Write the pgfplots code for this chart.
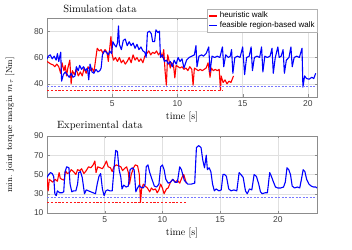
\documentclass[border=0pt]{standalone}
\usepackage{fontspec}
\usepackage{pgfplots}
\pgfplotsset{compat=1.18}
\newfontfamily\ticksans{Liberation Sans}
\definecolor{mred}{RGB}{255,0,0}
\definecolor{mblue}{RGB}{0,0,255}
\definecolor{lblue}{RGB}{120,120,255}
\pgfplotsset{
  myax/.style={
    scale only axis, width=270pt,
    axis line style={black!45}, tick style={black!45},
    major tick length=2.5pt, tick align=inside,
    grid=major, grid style={black!12, line width=0.4pt},
    tick label style={font=\ticksans\fontsize{8.5}{9}\selectfont, text=black!75},
    /pgf/number format/assume math mode=true,
    xlabel={time [s]}, label style={font=\fontsize{10}{11}\selectfont},
    xlabel style={yshift=1.5pt},
    title style={font=\fontsize{10.5}{11}\selectfont, anchor=south, yshift=-4.5pt},
    xtick={5,10,15,20}, xmin=0,
    every axis plot/.append style={line width=1.1pt, line join=round},
  }
}
\begin{document}
\begin{tikzpicture}[x=1pt,y=1pt]
\useasboundingbox (0,0) rectangle (352,249);
\begin{axis}[myax, height=79pt, at={(47pt,152pt)}, anchor=south west,
  xmax=20.7, ymin=30, ymax=90, ytick={40,60,80},
  title={Simulation data}, title style={at={(0.196,1)}},
  legend style={at={(0.593,1.114)}, anchor=north west, draw=black!30,
    font=\ticksans\fontsize{8}{9}\selectfont, inner sep=1pt, row sep=-1.5pt,
    cells={anchor=west}},
]
\addlegendimage{legend image code/.code={\draw[draw=mred, line width=1.5pt] (0pt,0pt) -- (8pt,0pt);}}
\addlegendentry{heuristic walk}
\addlegendimage{legend image code/.code={\draw[draw=mblue, line width=1.5pt] (0pt,0pt) -- (8pt,0pt);}}
\addlegendentry{feasible region-based walk}
\addplot[mred, forget plot] coordinates {(0,57)(0.15,56)(0.3,55)(0.45,54.5)(0.6,53)(0.75,55)(0.9,53)(1.05,48)(1.15,56)(1.3,50)(1.4,54)(1.5,46)(1.6,52)(1.75,58)(1.85,40)(1.95,50)(2.1,47)(2.25,51)(2.4,46)(2.55,49)(2.7,46)(2.85,52)(3.0,48)(3.15,53)(3.3,50)(3.45,52)(3.6,49)(3.75,60)(3.85,67)(4.0,65)(4.15,66)(4.3,63)(4.45,66)(4.6,64)(4.7,57)(4.8,66)(4.9,76)(5.0,62)(5.1,58)(5.25,60)(5.4,57)(5.55,60)(5.7,56)(5.85,58)(6.0,55)(6.15,57)(6.3,60)(6.45,56)(6.6,62)(6.75,58)(6.9,60)(7.05,57)(7.2,59)(7.35,56)(7.5,61)(7.65,63)(7.8,65)(7.95,62)(8.1,64)(8.25,63)(8.4,65)(8.55,62)(8.7,64)(8.85,60)(8.95,66)(9.05,50)(9.15,39)(9.25,62)(9.35,58)(9.45,52)(9.55,56)(9.7,54)(9.8,44.5)(9.9,54)(10.05,53)(10.2,52)(10.35,53)(10.5,51)(10.65,52)(10.8,50)(10.95,53)(11.1,51)(11.2,39)(11.3,52)(11.45,51)(11.6,50)(11.75,51)(11.9,50)(12.05,51)(12.2,52)(12.35,56)(12.5,45)(12.6,52)(12.75,50)(12.9,51)(13.05,50)(13.2,51)(13.3,35)(13.35,46)(13.5,41)(13.65,43)(13.8,40)(13.95,42)(14.1,41)(14.3,46)};
\addplot[mblue, forget plot] coordinates {(0,59)(0.1,61)(0.25,62)(0.4,59)(0.55,61)(0.7,58)(0.8,63)(0.9,57)(1.05,64)(1.12,42)(1.25,47)(1.4,49)(1.55,47)(1.7,45)(1.85,48)(2.0,45)(2.15,46)(2.25,53)(2.4,50)(2.5,54)(2.65,51)(2.8,53)(2.95,50)(3.1,52)(3.2,43)(3.3,55)(3.45,49)(3.6,48)(3.75,51)(3.9,49)(4.05,50)(4.15,52)(4.25,62)(4.4,65)(4.55,64)(4.7,62)(4.8,65)(4.95,63)(5.05,72)(5.15,70)(5.3,68)(5.4,71)(5.48,84)(5.55,70)(5.7,66)(5.85,73)(6.0,74)(6.15,69)(6.3,72)(6.45,69)(6.6,71)(6.75,67)(6.9,70)(7.05,66)(7.2,68)(7.35,65)(7.5,64)(7.6,60)(7.7,79)(7.85,80)(8.0,78)(8.1,72)(8.25,72)(8.35,81)(8.5,79)(8.62,80)(8.7,60)(8.85,62)(9.0,57)(9.15,58)(9.3,55)(9.45,57)(9.6,53)(9.75,58)(9.9,55)(10.05,60)(10.2,57)(10.35,59)(10.5,52)(10.7,58)(10.9,60)(11.1,61)(11.3,62)(11.42,69)(11.5,53)(11.65,61)(11.85,62)(12.0,61)(12.2,63)(12.4,68)(12.5,49)(12.65,61)(12.85,60)(13.05,61)(13.25,60)(13.45,68)(13.55,53)(13.7,62)(13.9,60)(14.05,61)(14.15,66)(14.25,48)(14.4,60)(14.6,61)(14.8,60)(15.0,68)(15.15,47)(15.3,60)(15.5,61)(15.65,68)(15.75,50)(15.9,60)(16.1,61)(16.3,60)(16.45,68)(16.55,49)(16.7,61)(16.9,60)(17.1,61)(17.25,67)(17.35,48)(17.5,60)(17.7,68)(17.8,60)(17.95,61)(18.1,66)(18.2,48)(18.35,58)(18.55,60)(18.7,68)(18.8,53)(18.95,60)(19.15,61)(19.35,60)(19.55,67)(19.62,37.5)(19.75,46)(19.9,44)(20.1,43.5)(20.3,45)(20.45,44)(20.6,48)};
\addplot[lblue, line width=1.4pt, dash pattern=on 2pt off 1.5pt, forget plot] coordinates {(0,38)(20.7,38)};
\addplot[mred!90, line width=0.7pt, dash pattern=on 2.2pt off 1.6pt, forget plot] coordinates {(0,34.8)(13.5,34.8)};
\end{axis}
\begin{axis}[myax, height=77pt, at={(47pt,36pt)}, anchor=south west,
  xmax=23.4, ymin=10, ymax=90, ytick={10,30,50,70,90},
  title={Experimental data}, title style={at={(0.196,1)}},
]
\addplot[mred] coordinates {(0,47)(0.1,33)(0.2,45)(0.3,44)(0.5,42)(0.7,45)(0.9,43)(1.05,52)(1.15,46)(1.3,45)(1.5,44)(1.6,54)(1.75,51)(1.95,52)(2.1,55)(2.3,53)(2.5,50)(2.65,55)(2.85,54)(3.0,56)(3.2,51)(3.4,54)(3.6,58)(3.8,57)(4.0,60)(4.15,64)(4.25,52)(4.4,58)(4.6,57)(4.8,56)(5.0,60)(5.15,64)(5.3,58)(5.5,57)(5.65,53)(5.8,58)(6.0,60)(6.2,59)(6.4,58)(6.55,54)(6.7,56)(6.9,58)(7.05,52)(7.15,40)(7.3,50)(7.5,57)(7.65,60)(7.85,59)(8.0,50)(8.1,21)(8.2,35)(8.35,40)(8.5,38)(8.7,36)(8.9,32)(9.05,36)(9.2,34)(9.4,35)(9.55,31)(9.7,34)(9.85,40)(10.0,36)(10.15,30)(10.35,35)(10.5,36)(10.7,42)(10.9,45)(11.1,42)(11.3,44)(11.5,41)(11.7,47)(11.85,50)(12.0,44)(12.07,41)};
\addplot[mblue] coordinates {(0,47)(0.15,50)(0.3,52)(0.45,51)(0.58,48)(0.68,30)(0.8,28)(0.9,33)(1.1,31)(1.3,31)(1.45,32)(1.55,52)(1.7,58)(1.9,57)(2.0,40)(2.15,32)(2.3,33)(2.5,33)(2.65,40)(2.75,52)(2.9,53)(3.05,47)(3.25,30)(3.4,34)(3.6,33)(3.8,32)(4.0,31)(4.2,30)(4.35,40)(4.5,48)(4.65,51)(4.8,35)(4.95,28)(5.1,33)(5.25,34)(5.45,33)(5.65,33)(5.8,55)(5.95,75)(6.1,74)(6.25,55)(6.4,47)(6.5,35)(6.65,39)(6.85,37)(7.05,38)(7.2,55)(7.4,57)(7.55,55)(7.7,32)(7.85,36)(8.0,39)(8.1,37)(8.35,36)(8.5,40)(8.6,58)(8.75,60)(8.9,52)(9.1,45)(9.3,38)(9.5,37)(9.7,40)(9.85,58)(10.0,60)(10.15,55)(10.3,45)(10.5,41)(10.7,42)(10.9,45)(11.1,42)(11.3,42)(11.5,58)(11.65,55)(11.9,44)(12.2,40)(12.5,40)(12.8,41)(12.95,78)(13.15,80)(13.35,78)(13.5,65)(13.65,57)(13.8,70)(13.9,55)(14.05,57)(14.2,53)(14.35,40)(14.5,33)(14.65,35)(14.9,33)(15.1,34)(15.25,50)(15.4,50)(15.55,48)(15.75,35)(15.95,33)(16.2,34)(16.45,33)(16.65,52)(16.8,50)(17.0,47)(17.2,33)(17.35,30)(17.55,35)(17.75,34)(17.95,50)(18.15,48)(18.35,40)(18.5,32)(18.65,30)(18.9,31)(19.1,31)(19.3,52)(19.45,48)(19.6,43)(19.8,37)(20.0,36)(20.25,36)(20.5,37)(20.65,42)(20.8,57)(20.95,55)(21.1,50)(21.25,38)(21.45,36)(21.7,37)(21.9,36)(22.05,45)(22.2,55)(22.35,53)(22.5,45)(22.7,40)(22.9,38)(23.1,37)(23.3,37)(23.4,36)};
\addplot[lblue, line width=1.4pt, dash pattern=on 2pt off 1.5pt] coordinates {(0,26.3)(23.4,26.3)};
\addplot[mred!90, line width=0.7pt, dash pattern=on 2.2pt off 1.6pt] coordinates {(0,21.1)(12.1,21.1)};
\end{axis}
\node[rotate=90, font=\fontsize{8.7}{10}\selectfont] at (10,124) {min. joint torque margin $m_\tau$ [Nm]};
\end{tikzpicture}
\end{document}
